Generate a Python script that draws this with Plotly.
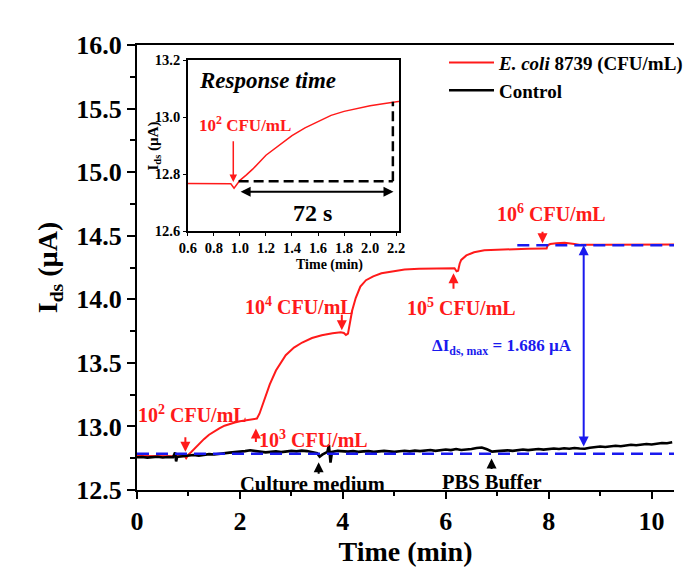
import plotly.graph_objects as go

# ---------------- data ----------------
ecoli_t = [0.0, 0.3, 0.6, 0.9, 0.93, 0.955, 0.975, 1.0, 1.05, 1.1, 1.2, 1.3, 1.4, 1.5, 1.6, 1.7,
           1.8, 1.9, 2.0, 2.1, 2.2, 2.3, 2.33, 2.38, 2.45, 2.58, 2.7, 2.89, 3.05, 3.21, 3.4,
           3.59, 3.8, 3.96, 4.02, 4.06, 4.1, 4.14, 4.18, 4.25, 4.34, 4.45, 4.59, 4.75, 4.97,
           5.2, 5.48, 5.8, 6.17, 6.21, 6.24, 6.27, 6.3, 6.4, 6.55, 6.75, 6.99, 7.3, 7.6, 7.93,
           7.96, 7.98, 8.03, 8.15, 8.31, 8.5, 8.62, 9.0, 9.5, 10.0, 10.45]
ecoli_i = [12.768, 12.768, 12.768, 12.768, 12.766, 12.750, 12.762, 12.778, 12.797, 12.818,
           12.866, 12.900, 12.935, 12.962, 12.985, 13.006, 13.020, 13.031, 13.040, 13.047,
           13.053, 13.058, 13.062, 13.10, 13.18, 13.33, 13.44, 13.56, 13.62, 13.66, 13.695,
           13.717, 13.732, 13.74, 13.735, 13.72, 13.73, 13.82, 13.91, 14.01, 14.10, 14.15,
           14.18, 14.205, 14.22, 14.235, 14.24, 14.245, 14.245, 14.22, 14.225, 14.28, 14.31,
           14.345, 14.37, 14.385, 14.39, 14.395, 14.398, 14.40, 14.40, 14.425, 14.435, 14.44,
           14.445, 14.435, 14.428, 14.428, 14.43, 14.43, 14.43]

control_t = [0.0, 0.1, 0.2, 0.3, 0.4, 0.5, 0.6, 0.7, 0.74, 0.76, 0.78, 0.8, 0.9, 1.0, 1.1,
             1.2, 1.3, 1.4, 1.5, 1.6, 1.7, 1.8, 1.9, 2.0, 2.1, 2.2, 2.3, 2.4, 2.5, 2.6, 2.7,
             2.8, 2.9, 3.0, 3.1, 3.2, 3.3, 3.4, 3.5, 3.55, 3.6, 3.7, 3.73, 3.76, 3.79, 3.9,
             4.0, 4.1, 4.2, 4.3, 4.4, 4.5, 4.6, 4.7, 4.8, 4.9, 5.0, 5.1, 5.2, 5.3, 5.4, 5.5,
             5.6, 5.7, 5.8, 5.9, 6.0, 6.1, 6.2, 6.3, 6.4, 6.5, 6.6, 6.7, 6.8, 6.9, 7.0, 7.1,
             7.2, 7.3, 7.4, 7.5, 7.6, 7.7, 7.8, 7.9, 8.0, 8.1, 8.2, 8.3, 8.4, 8.5, 8.6, 8.7,
             8.8, 8.9, 9.0, 9.1, 9.2, 9.3, 9.4, 9.5, 9.6, 9.7, 9.8, 9.9, 10.0, 10.1, 10.2,
             10.3, 10.4]
control_i = [12.757, 12.760, 12.755, 12.758, 12.762, 12.756, 12.760, 12.758, 12.795, 12.725,
             12.760, 12.762, 12.766, 12.772, 12.775, 12.770, 12.778, 12.782, 12.779, 12.786,
             12.790, 12.794, 12.798, 12.800, 12.806, 12.812, 12.808, 12.800, 12.796, 12.800,
             12.804, 12.798, 12.803, 12.808, 12.804, 12.810, 12.806, 12.800, 12.790, 12.762,
             12.778, 12.800, 12.855, 12.715, 12.800, 12.808, 12.804, 12.802, 12.806, 12.800,
             12.804, 12.806, 12.800, 12.803, 12.808, 12.804, 12.800, 12.805, 12.809, 12.804,
             12.810, 12.806, 12.812, 12.815, 12.808, 12.812, 12.818, 12.814, 12.822, 12.815,
             12.818, 12.822, 12.830, 12.834, 12.820, 12.802, 12.806, 12.810, 12.812, 12.808,
             12.815, 12.818, 12.814, 12.820, 12.822, 12.818, 12.823, 12.826, 12.822, 12.828,
             12.825, 12.830, 12.826, 12.824, 12.832, 12.838, 12.842, 12.838, 12.845, 12.848,
             12.844, 12.850, 12.856, 12.852, 12.858, 12.862, 12.858, 12.866, 12.870, 12.868,
             12.875]

baseline_level = 12.785
saturation_level = 14.425
delta_label = "ΔI<sub>ds, max</sub> = 1.686 µA"

# concentration labels: (text, x, y), arrows: (x tip, y tip, pixel offset of tail)
conc_labels = [("10<sup>2</sup> CFU/mL", 1.08, 13.10),
               ("10<sup>3</sup> CFU/mL", 3.42, 12.90),
               ("10<sup>4</sup> CFU/mL", 3.15, 13.95),
               ("10<sup>5</sup> CFU/mL", 6.30, 13.94),
               ("10<sup>6</sup> CFU/mL", 8.05, 14.68)]
conc_arrows = [(0.94, 12.80, -16), (2.31, 12.984, 15), (3.98, 13.756, -17),
               (6.15, 14.205, 17), (7.88, 14.441, -13)]
event_labels = [("Culture medium", 3.41, 12.55), ("PBS Buffer", 6.90, 12.56)]
event_arrows = [(3.53, 12.719, 13), (6.89, 12.748, 12)]

FONT = "Liberation Serif"
RED = "#ff1a1a"
BLUE = "#1a1aee"

fig = go.Figure()
fig.add_trace(go.Scatter(x=ecoli_t, y=ecoli_i, mode="lines", name="<i>E. coli</i> 8739 (CFU/mL)",
                         line=dict(color=RED, width=2), legendgroup="a", xaxis="x", yaxis="y"))
fig.add_trace(go.Scatter(x=control_t, y=control_i, mode="lines", name="Control",
                         line=dict(color="black", width=2.6), legendgroup="b", xaxis="x", yaxis="y"))
# inset
fig.add_trace(go.Scatter(x=ecoli_t, y=ecoli_i, mode="lines", showlegend=False,
                         line=dict(color=RED, width=1.5), xaxis="x2", yaxis="y2"))

axis_common = dict(showgrid=False, zeroline=False, showline=True, linecolor="black",
                   ticks="outside", tickcolor="black")

fig.update_layout(
    width=689, height=571,
    margin=dict(l=137, r=0, t=45, b=81),
    paper_bgcolor="white", plot_bgcolor="white",
    font=dict(family=FONT, color="black"),
    xaxis=dict(**axis_common, range=[0, 10.435], dtick=2, tick0=0, linewidth=2, mirror=True,
               ticklen=7, tickwidth=2,
               minor=dict(dtick=1, ticks="outside", ticklen=4, tickwidth=1.5, tickcolor="black"),
               tickfont=dict(size=26, family=FONT, weight="bold"),
               title=dict(text="<b>Time (min)</b>", font=dict(size=28, family=FONT), standoff=4)),
    yaxis=dict(**axis_common, range=[12.5, 16.0], dtick=0.5, tick0=12.5, tickformat=".1f",
               linewidth=2, ticklen=8, tickwidth=2,
               minor=dict(dtick=0.25, ticks="outside", ticklen=5, tickwidth=1.5, tickcolor="black"),
               tickfont=dict(size=26, family=FONT, weight="bold"),
               title=dict(text="<b>I<sub>ds</sub> (µA)</b>", font=dict(size=28, family=FONT), standoff=10)),
    xaxis2=dict(**axis_common, domain=[0.0947, 0.4886], anchor="y2", range=[0.6, 2.225], dtick=0.2,
                tick0=0.6, tickformat=".1f", linewidth=1.5, mirror=True, ticklen=3,
                tickfont=dict(size=14.5, family=FONT, weight="bold")),
    yaxis2=dict(**axis_common, domain=[0.582, 0.966], anchor="x2", range=[12.6, 13.2], dtick=0.2,
                tick0=12.6, tickformat=".1f", linewidth=1.5, mirror=True, ticklen=3,
                tickfont=dict(size=14.5, family=FONT, weight="bold")),
    legend=dict(x=0.572, y=1.003, xanchor="left", yanchor="top", bgcolor="rgba(0,0,0,0)",
                font=dict(size=19, family=FONT, weight="bold"), tracegroupgap=0,
                traceorder="grouped", itemwidth=45),
    showlegend=True,
)

# inset axis titles
fig.add_annotation(x=0.2917, y=0.506, xref="paper", yref="paper", text="<b>Time (min)</b>",
                   showarrow=False, font=dict(size=14, family=FONT, color="black"))
fig.add_annotation(x=0.011, y=12.9, xref="paper", yref="y2", text="<b>I<sub>ds</sub> (µA)</b>",
                   textangle=-90, showarrow=False, font=dict(size=15, family=FONT, color="black"))

# main dashed reference lines
fig.add_shape(type="line", xref="x", yref="y", x0=0, x1=10.435, y0=baseline_level, y1=baseline_level,
              line=dict(color=BLUE, width=2.5, dash="12px,7px"))
fig.add_shape(type="line", xref="x", yref="y", x0=7.39, x1=10.435, y0=saturation_level,
              y1=saturation_level, line=dict(color=BLUE, width=2.5, dash="12px,7px"))
# delta arrow
fig.add_annotation(x=8.68, y=saturation_level, ax=8.68, ay=12.83, xref="x", yref="y", axref="x",
                   ayref="y", text="", showarrow=True, arrowhead=2, arrowside="end+start",
                   arrowsize=1, arrowwidth=2, arrowcolor=BLUE)
fig.add_annotation(x=7.10, y=13.625, xref="x", yref="y", text="<b>" + delta_label + "</b>",
                   showarrow=False, font=dict(size=17, family=FONT, color=BLUE))

for (txt, x, y) in conc_labels:
    fig.add_annotation(x=x, y=y, xref="x", yref="y", text="<b>" + txt + "</b>", showarrow=False,
                       font=dict(size=20, family=FONT, color=RED))
for (x, y, off) in conc_arrows:
    fig.add_annotation(x=x, y=y, xref="x", yref="y", ax=0, ay=off, text="", showarrow=True,
                       arrowhead=2, arrowsize=1, arrowwidth=2, arrowcolor=RED)
for (txt, x, y) in event_labels:
    fig.add_annotation(x=x, y=y, xref="x", yref="y", text="<b>" + txt + "</b>", showarrow=False,
                       font=dict(size=20.5, family=FONT, color="black"))
for (x, y, off) in event_arrows:
    fig.add_annotation(x=x, y=y, xref="x", yref="y", ax=0, ay=off, text="", showarrow=True,
                       arrowhead=2, arrowsize=1, arrowwidth=2, arrowcolor="black")

# inset decorations
fig.add_annotation(x=1.21, y=13.13, xref="x2", yref="y2", text="<b><i>Response time</i></b>",
                   showarrow=False, font=dict(size=23, family=FONT, color="black"))
fig.add_annotation(x=1.04, y=12.975, xref="x2", yref="y2", text="<b>10<sup>2</sup> CFU/mL</b>",
                   showarrow=False, font=dict(size=17, family=FONT, color=RED))
fig.add_annotation(x=0.949, y=12.772, ax=0.949, ay=12.92, xref="x2", yref="y2", axref="x2",
                   ayref="y2", text="", showarrow=True, arrowhead=2, arrowsize=1, arrowwidth=1.5,
                   arrowcolor=RED)
fig.add_shape(type="line", xref="x2", yref="y2", x0=0.99, x1=2.175, y0=12.775, y1=12.775,
              line=dict(color="black", width=2.5, dash="10px,5px"))
fig.add_shape(type="line", xref="x2", yref="y2", x0=2.175, x1=2.175, y0=12.775, y1=13.054,
              line=dict(color="black", width=2.5, dash="10px,5px"))
fig.add_annotation(x=2.18, y=12.738, ax=0.994, ay=12.738, xref="x2", yref="y2", axref="x2",
                   ayref="y2", text="", showarrow=True, arrowhead=2, arrowside="end+start",
                   arrowsize=1, arrowwidth=2, arrowcolor="black")
fig.add_annotation(x=1.555, y=12.663, xref="x2", yref="y2", text="<b>72 s</b>", showarrow=False,
                   font=dict(size=24, family=FONT, color="black"))

fig.write_html("out.html")
